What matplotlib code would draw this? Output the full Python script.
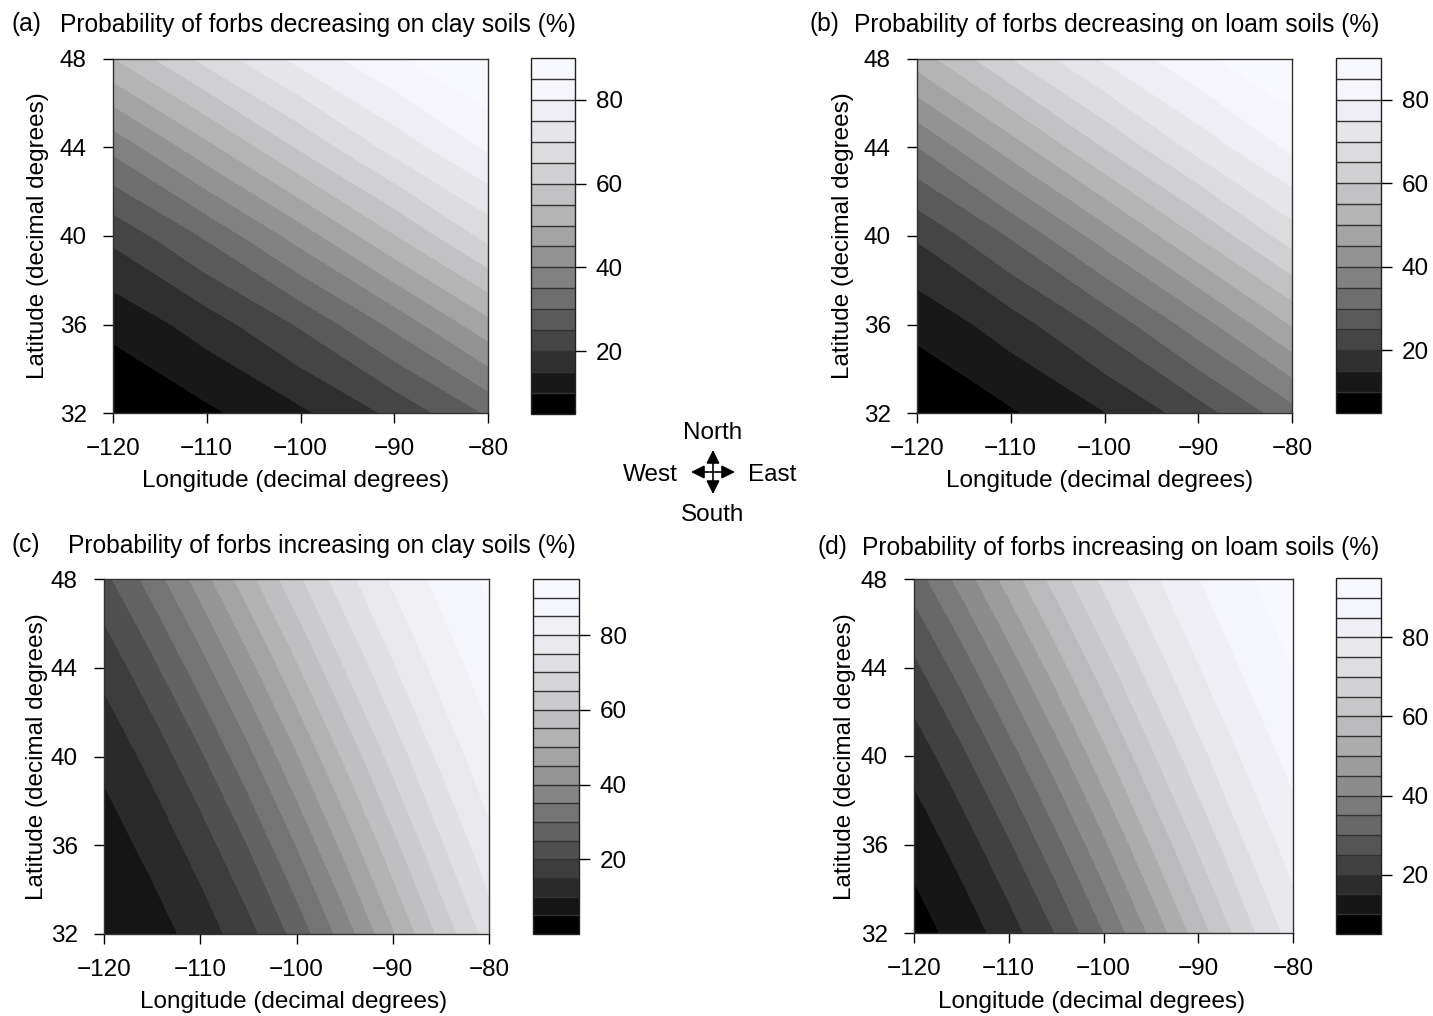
import numpy as np
import matplotlib
matplotlib.use("Agg")
import matplotlib.pyplot as plt

plt.rcParams['font.family'] = ['Liberation Sans', 'DejaVu Sans']
plt.rcParams['axes.unicode_minus'] = True

W, H = 1433, 1016
FS = 17.5
FS_TITLE = 17.7

# ---------------- data ----------------
lat_vals = [32, 36, 40, 44, 48]
lon_coarse = [-120, -110, -100, -90, -80]
lon_fine = [-120, -115, -110, -105, -100, -95, -90, -85, -80]

# (a) probability (%) of forbs decreasing on clay soils; rows = lat_vals, cols = lon_coarse
prob_dec_clay = [
    [5.6, 9.0, 14.0, 21.1, 30.6],
    [11.2, 17.3, 25.6, 36.2, 48.3],
    [21.2, 30.7, 42.2, 54.6, 66.5],
    [36.3, 48.4, 60.7, 71.8, 80.8],
    [54.7, 66.6, 76.6, 84.4, 89.9],
]
# (b) decreasing on loam soils; rows = lat_vals, cols = lon_coarse
prob_dec_loam = [
    [5.8, 9.4, 14.8, 22.6, 33.0],
    [11.2, 17.5, 26.3, 37.5, 50.3],
    [20.6, 30.4, 42.3, 55.2, 67.5],
    [34.8, 47.3, 60.1, 71.7, 81.0],
    [52.3, 64.8, 75.6, 83.9, 89.8],
]
# (c) increasing on clay soils; rows = lat_vals, cols = lon_fine
prob_inc_clay = [
    [4.9, 7.7, 12.0, 18.2, 26.7, 37.3, 49.3, 61.3, 72.1],
    [7.4, 11.5, 17.2, 25.1, 35.1, 46.5, 58.3, 69.3, 78.4],
    [11.2, 16.6, 24.1, 33.5, 44.4, 55.9, 66.8, 76.2, 83.6],
    [16.4, 23.6, 32.6, 43.1, 54.2, 65.0, 74.4, 82.0, 87.7],
    [23.5, 32.2, 42.4, 53.2, 63.7, 73.1, 80.7, 86.6, 90.9],
]
# (d) increasing on loam soils; rows = lat_vals, cols = lon_fine
prob_inc_loam = [
    [7.8, 11.9, 17.6, 25.2, 34.8, 45.9, 57.3, 68.0, 77.1],
    [11.6, 17.0, 24.3, 33.4, 43.9, 55.1, 65.7, 75.0, 82.4],
    [16.8, 23.7, 32.5, 42.6, 53.4, 64.0, 73.3, 80.9, 86.7],
    [23.7, 32.1, 42.0, 52.4, 62.7, 72.0, 79.7, 85.7, 90.1],
    [32.3, 41.9, 52.1, 62.1, 71.1, 78.8, 84.8, 89.4, 92.7],
]

levels_a = list(range(5, 95, 5))    # 5 .. 90
levels_b = list(range(5, 95, 5))    # 5 .. 90
levels_c = list(range(0, 100, 5))   # 0 .. 95
levels_d = list(range(5, 100, 5))   # 5 .. 95

lon_ticks = [-120, -110, -100, -90, -80]
lat_ticks = [32, 36, 40, 44, 48]
cbar_ticks = [20, 40, 60, 80]

panel_tags = ["(a)", "(b)", "(c)", "(d)"]
panel_titles = [
    "Probability of forbs decreasing on clay soils (%)",
    "Probability of forbs decreasing on loam soils (%)",
    "Probability of forbs increasing on clay soils (%)",
    "Probability of forbs increasing on loam soils (%)",
]
xlabel = "Longitude (decimal degrees)"
ylabel = "Latitude (decimal degrees)"


def grey_palette(n):
    cols = []
    for k in range(n):
        t = k / (n - 1)
        g = 0.973 * (1 - (1 - t) ** 1.56)
        cols.append((g, g, min(1.0, g + 0.03 * t ** 3)))
    return cols


def px_rect(x0, y0, x1, y1):
    return [x0 / W, 1 - y1 / H, (x1 - x0) / W, (y1 - y0) / H]


def fmt(v):
    return str(v).replace('-', '\u2212')


fig = plt.figure(figsize=(W / 100, H / 100), dpi=100)
fig.patch.set_facecolor('white')

layout = [
    # plot rect, colorbar rect (pixels)
    ((113, 59, 488, 413), (531, 58, 575, 414)),
    ((917, 59, 1292, 413), (1336, 58, 1381, 413)),
    ((104, 579, 489, 934), (533, 579, 579, 934)),
    ((914, 579, 1293, 933), (1336, 578, 1381, 934)),
]
data = [
    (lon_coarse, prob_dec_clay, levels_a),
    (lon_coarse, prob_dec_loam, levels_b),
    (lon_fine, prob_inc_clay, levels_c),
    (lon_fine, prob_inc_loam, levels_d),
]

for (prect, crect), (lons, z, levels) in zip(layout, data):
    ax = fig.add_axes(px_rect(*prect))
    cax = fig.add_axes(px_rect(*crect))
    cols = grey_palette(len(levels) - 1)
    cs = ax.contourf(lons, lat_vals, np.array(z), levels=levels, colors=cols,
                     antialiased=False)
    ax.set_xlim(-120, -80)
    ax.set_ylim(32, 48)
    ax.set_xticks(lon_ticks)
    ax.set_xticklabels([fmt(v) for v in lon_ticks])
    ax.set_yticks(lat_ticks)
    ax.set_yticklabels([fmt(v) for v in lat_ticks])
    ax.tick_params(axis='both', direction='out', length=7, width=1.0,
                   labelsize=FS, colors='black')
    ax.tick_params(axis='x', pad=11)
    ax.tick_params(axis='y', pad=12)
    for s in ax.spines.values():
        s.set_linewidth(1.0)
        s.set_color('#333333')

    cb = fig.colorbar(cs, cax=cax, ticks=cbar_ticks, drawedges=True)
    cb.outline.set_linewidth(1.0)
    cb.outline.set_edgecolor('#222222')
    cb.dividers.set_color('#333333')
    cb.dividers.set_linewidth(1.0)
    cax.tick_params(axis='y', direction='out', length=8, width=1.0,
                    labelsize=FS, pad=7, colors='black')
    cax.set_yticklabels([str(v) for v in cbar_ticks])

# overlay for free text and compass
ov = fig.add_axes([0, 0, 1, 1], zorder=10)
ov.set_xlim(0, W)
ov.set_ylim(H, 0)
ov.axis('off')

title_pos = [((12, 31), (60, 32)), ((810, 31), (854, 32)),
             ((12, 552), (68, 553)), ((818, 554), (862, 555))]
for (tpos, ttl_pos), tag, ttl in zip(title_pos, panel_tags, panel_titles):
    ov.text(tpos[0], tpos[1], tag, fontsize=FS_TITLE, ha='left', va='baseline')
    ov.text(ttl_pos[0], ttl_pos[1], ttl, fontsize=FS_TITLE, ha='left', va='baseline')

xlabel_pos = [(296, 481), (1100, 481), (294, 1002), (1092, 1002)]
ylabel_pos = [(38, 236), (843, 236), (37, 757), (845, 757)]
for (x, y) in xlabel_pos:
    ov.text(x, y, xlabel, fontsize=FS, ha='center', va='center')
for (x, y) in ylabel_pos:
    ov.text(x, y, ylabel, fontsize=FS, ha='center', va='center', rotation=90)

# compass
cx, cy = 713, 472
ov.annotate('', xy=(cx - 22, cy), xytext=(cx + 22, cy),
            arrowprops=dict(arrowstyle='<|-|>', color='black', lw=1.2,
                            mutation_scale=20, shrinkA=0, shrinkB=0))
ov.annotate('', xy=(cx, cy - 22), xytext=(cx, cy + 22),
            arrowprops=dict(arrowstyle='<|-|>', color='black', lw=1.2,
                            mutation_scale=20, shrinkA=0, shrinkB=0))
ov.text(cx, 433, "North", fontsize=FS, ha='center', va='center')
ov.text(cx, 515, "South", fontsize=FS, ha='center', va='center')
ov.text(678, 475, "West", fontsize=FS, ha='right', va='center')
ov.text(748, 475, "East", fontsize=FS, ha='left', va='center')

fig.savefig("out.png", dpi=100, facecolor='white')
